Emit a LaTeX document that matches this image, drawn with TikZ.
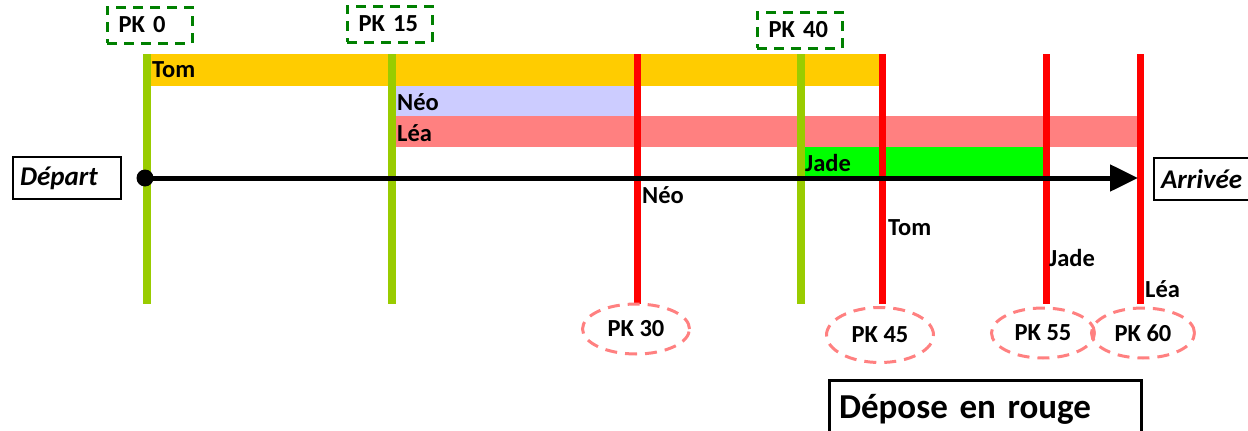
\documentclass[tikz,border=0pt]{standalone}
\usepackage{fontspec}
\setmainfont{Carlito}
\usetikzlibrary{shapes.geometric,arrows.meta}
\definecolor{pkvert}{RGB}{153,204,0}
\definecolor{pkfonce}{RGB}{0,128,0}
\definecolor{pkrose}{RGB}{255,128,128}
\definecolor{tomc}{RGB}{255,204,0}
\definecolor{neoc}{RGB}{204,204,255}
\definecolor{leac}{RGB}{255,128,128}
\definecolor{jadec}{RGB}{0,255,0}
\begin{document}
\begin{tikzpicture}[x=1pt,y=-1pt,
          font=\fontsize{24.5}{28}\selectfont\bfseries,
          gline/.style={pkvert,line width=7.5pt},
          rline/.style={red,line width=7pt},
          lbl/.style={anchor=base west,inner sep=0pt},
          pkbox/.style={draw=pkfonce,line width=3pt,dash pattern=on 10pt off 7pt,
            minimum width=85pt,minimum height=36pt,text width=62pt,inner xsep=10pt,align=left},
          pkell/.style={ellipse,draw=pkrose,line width=3pt,dash pattern=on 12pt off 8pt,
            minimum width=107pt,minimum height=50pt,inner sep=0pt},
          endbox/.style={draw,line width=2pt,anchor=west,minimum height=42pt,
            text width=94pt,inner xsep=7pt,align=left,font=\fontsize{27}{30}\selectfont\bfseries\itshape}
          ]
          \useasboundingbox (0,0) rectangle (1248,431);
          % bandes des coureurs
          \fill[tomc] (147,54) rectangle (881,86);
          \fill[neoc] (392,86) rectangle (637,116);
          \fill[leac] (392,116) rectangle (1140,147);
          \fill[jadec] (801,147) rectangle (1046,178);
          \node[lbl] (tomA) at (152,77) {Tom};
          \node[lbl] (neoA) at (397,110) {Néo};
          \node[lbl] (leaA) at (397,141) {Léa};
          \node[lbl] (jadeA) at (805,171) {Jade};
          % points kilometriques
          \draw[gline] (147,54) -- (147,304);
          \draw[gline] (392,54) -- (392,304);
          \draw[gline] (801,54) -- (801,304);
          \draw[rline] (637,54) -- (637,304);
          \draw[rline] (882,54) -- (882,304);
          \draw[rline] (1046,54) -- (1046,304);
          \draw[rline] (1140,54) -- (1140,304);
          \node[pkbox] (pk0) at (149.5,25) {PK 0};
          \node[pkbox] (pk15) at (389.5,24) {PK 15};
          \node[pkbox] (pk40) at (799.5,30) {PK 40};
          \node[pkell] (pk30) at (636,329) {PK 30};
          \node[pkell,minimum height=55pt] (pk45) at (880,335) {PK 45};
          \node[pkell,minimum width=103pt] (pk55) at (1043,333) {PK 55};
          \node[pkell,minimum width=103pt] (pk60) at (1143,333) {PK 60};
          \node[lbl] (neoB) at (642,203) {Néo};
          \node[lbl] (tomB) at (888,235) {Tom};
          \node[lbl] (jadeB) at (1049,266) {Jade};
          \node[lbl] (leaB) at (1145,297) {Léa};
          % axe
          \node[endbox] (depart) at (12,178) {Départ};
          \node[endbox] (arrivee) at (1153,179) {Arrivée};
          \node[circle,fill,inner sep=0pt,minimum size=17pt] (debut) at (145,178) {};
          \coordinate (fin) at (1138,178);
          \draw[line width=5pt,-{Triangle[length=28pt,width=26pt]}] (debut.center) -- (fin);
          \node[draw,line width=3pt,anchor=north west,minimum width=312pt,minimum height=58pt,
            text width=293pt,inner xsep=8pt,align=left,font=\fontsize{35}{40}\selectfont\bfseries]
            (depose) at (828,379) {Dépose en rouge};
        \end{tikzpicture}
\end{document}
